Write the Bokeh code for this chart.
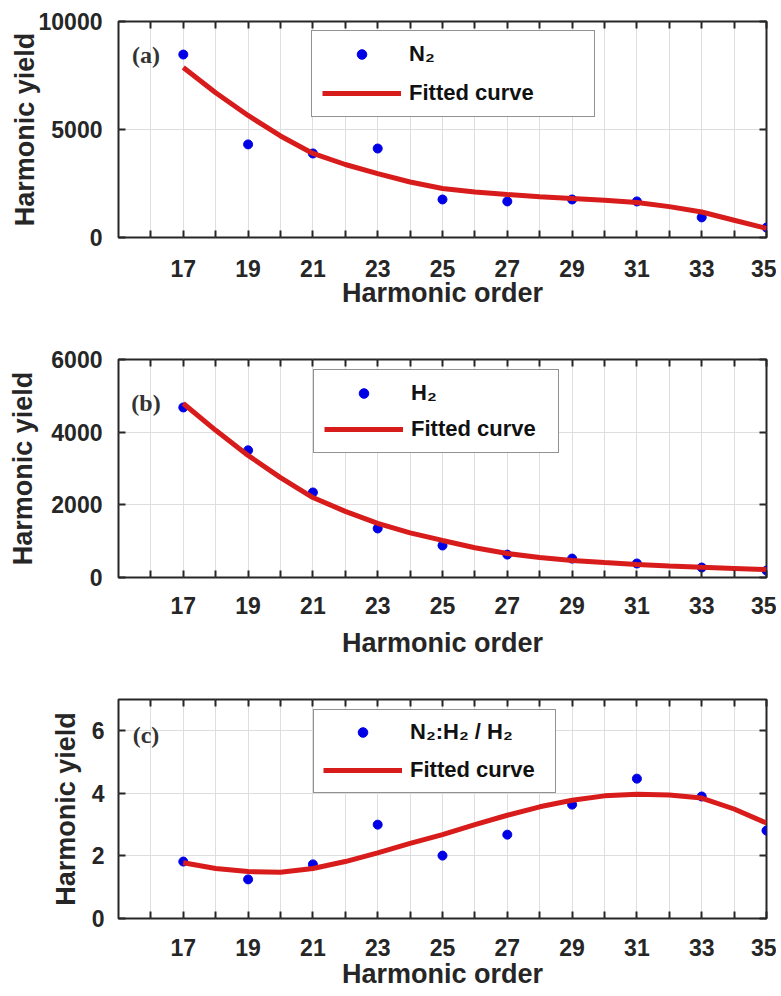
from bokeh.plotting import figure
from bokeh.models import Range1d, FixedTicker, LinearAxis, Legend, LegendItem, Label
from bokeh.layouts import column
from bokeh.embed import file_html
from bokeh.resources import INLINE

# ---------------- data ----------------
harmonic = [17, 19, 21, 23, 25, 27, 29, 31, 33, 35]
fit_order = [17, 18, 19, 20, 21, 22, 23, 24, 25, 26, 27, 28, 29, 30, 31, 32, 33, 34, 35]

n2_yield = [8470, 4310, 3890, 4120, 1760, 1670, 1760, 1670, 930, 460]
n2_fit = [7870, 6700, 5650, 4700, 3890, 3380, 2960, 2570, 2270, 2110, 1990,
          1890, 1800, 1720, 1620, 1430, 1180, 800, 420]

h2_yield = [4680, 3500, 2340, 1350, 880, 630, 520, 385, 275, 190]
h2_fit = [4790, 4050, 3360, 2750, 2200, 1820, 1490, 1230, 1020, 820, 660,
          550, 470, 410, 360, 315, 280, 250, 220]

ratio_yield = [1.82, 1.25, 1.73, 3.0, 2.01, 2.68, 3.64, 4.47, 3.90, 2.81]
ratio_fit = [1.78, 1.6, 1.5, 1.48, 1.6, 1.82, 2.1, 2.4, 2.68, 3.0, 3.3,
             3.57, 3.78, 3.92, 3.97, 3.95, 3.85, 3.5, 3.05]

x_major = [17, 19, 21, 23, 25, 27, 29, 31, 33, 35]
x_minor = [16, 18, 20, 22, 24, 26, 28, 30, 32, 34]

FONT = "Liberation Sans"
DARK = "#262626"
RED = "#d81c1c"
BLUE = "#0000e6"


def style_ticks(ax):
    ax.axis_line_color = None
    ax.major_tick_in = 7
    ax.major_tick_out = 0
    ax.minor_tick_in = 7
    ax.minor_tick_out = 0
    ax.major_tick_line_color = DARK
    ax.minor_tick_line_color = DARK
    ax.major_tick_line_width = 2
    ax.minor_tick_line_width = 2


def panel(y_yield, y_fit, ymax, yticks, legend_label, tag, tag_y,
          top, fh, bottom, xl_std, xt_std, yl_std, yt_std,
          leg_loc, leg_lw, leg_pad, leg_sp):
    p = figure(frame_width=648, frame_height=fh,
               x_range=Range1d(15, 35), y_range=Range1d(0, ymax),
               output_backend="svg", toolbar_location=None,
               min_border_left=118, min_border_right=10,
               min_border_top=top, min_border_bottom=bottom)
    p.outline_line_color = DARK
    p.outline_line_width = 2
    p.background_fill_color = "white"
    p.border_fill_color = "white"

    xt = FixedTicker(ticks=x_major, minor_ticks=x_minor)
    yt = FixedTicker(ticks=yticks, minor_ticks=[])

    for ax in (p.xaxis[0], p.yaxis[0]):
        style_ticks(ax)
        ax.major_label_text_font = FONT
        ax.major_label_text_font_style = "bold"
        ax.major_label_text_font_size = "23px"
        ax.major_label_text_color = DARK
        ax.axis_label_text_font = FONT
        ax.axis_label_text_font_style = "bold"
        ax.axis_label_text_font_size = "27px"
        ax.axis_label_text_color = DARK

    p.xaxis[0].ticker = xt
    p.yaxis[0].ticker = yt
    p.yaxis[0].minor_tick_line_color = None
    p.xaxis[0].axis_label = "Harmonic order"
    p.yaxis[0].axis_label = "Harmonic yield"
    p.xaxis[0].major_label_standoff = xl_std
    p.xaxis[0].axis_label_standoff = xt_std
    p.yaxis[0].major_label_standoff = yl_std
    p.yaxis[0].axis_label_standoff = yt_std

    # mirrored tick marks on top and right (no labels)
    top_ax = LinearAxis(ticker=FixedTicker(ticks=x_major, minor_ticks=x_minor))
    right_ax = LinearAxis(ticker=FixedTicker(ticks=yticks, minor_ticks=[]))
    for ax in (top_ax, right_ax):
        style_ticks(ax)
        ax.major_label_text_color = None
        ax.major_label_text_font_size = "1px"
        ax.major_label_standoff = 0
    right_ax.minor_tick_line_color = None
    p.add_layout(top_ax, "above")
    p.add_layout(right_ax, "right")

    p.xgrid.ticker = xt
    p.ygrid.ticker = yt
    p.xgrid.grid_line_color = "#dedede"
    p.xgrid.minor_grid_line_color = "#dedede"
    p.ygrid.grid_line_color = "#dedede"

    sc = p.scatter(harmonic, y_yield, size=9, color=BLUE)
    ln = p.line(fit_order, y_fit, line_width=5, color=RED)

    leg = Legend(items=[LegendItem(label=legend_label, renderers=[sc]),
                        LegendItem(label="Fitted curve", renderers=[ln])],
                 location=leg_loc, orientation="vertical",
                 glyph_width=79, glyph_height=24, label_height=24,
                 label_width=leg_lw, label_standoff=8, padding=leg_pad,
                 spacing=leg_sp, margin=0,
                 border_line_color=DARK, border_line_width=1,
                 background_fill_color="white", background_fill_alpha=1,
                 label_text_font=FONT, label_text_font_style="bold",
                 label_text_font_size="22px", label_text_color="#111111")
    p.add_layout(leg)

    p.add_layout(Label(x=15.85, y=tag_y, text=tag, text_font="Liberation Serif",
                       text_font_style="bold", text_font_size="24px",
                       text_color="#333333", text_align="center",
                       text_baseline="middle"))
    return p


pa = panel(n2_yield, n2_fit, 10000, [0, 5000, 10000], "N₂", "(a)", 8470,
           top=21, fh=216, bottom=80, xl_std=22, xt_std=-2, yl_std=16, yt_std=-4,
           leg_loc=(193, 120), leg_lw=175, leg_pad=10, leg_sp=13)
pb = panel(h2_yield, h2_fit, 6000, [0, 2000, 4000, 6000], "H₂", "(b)", 4816,
           top=42, fh=218, bottom=82, xl_std=19, xt_std=11, yl_std=16, yt_std=10,
           leg_loc=(195, 124), leg_lw=137, leg_pad=10, leg_sp=10)
pc = panel(ratio_yield, ratio_fit, 7, [0, 2, 4, 6], "N₂:H₂ / H₂", "(c)", 5.85,
           top=39, fh=219, bottom=78, xl_std=20, xt_std=0, yl_std=14, yt_std=8,
           leg_loc=(195, 125), leg_lw=136, leg_pad=9, leg_sp=12)

layout = column(pa, pb, pc, spacing=0)
open("out.html", "w").write(file_html(layout, INLINE))
